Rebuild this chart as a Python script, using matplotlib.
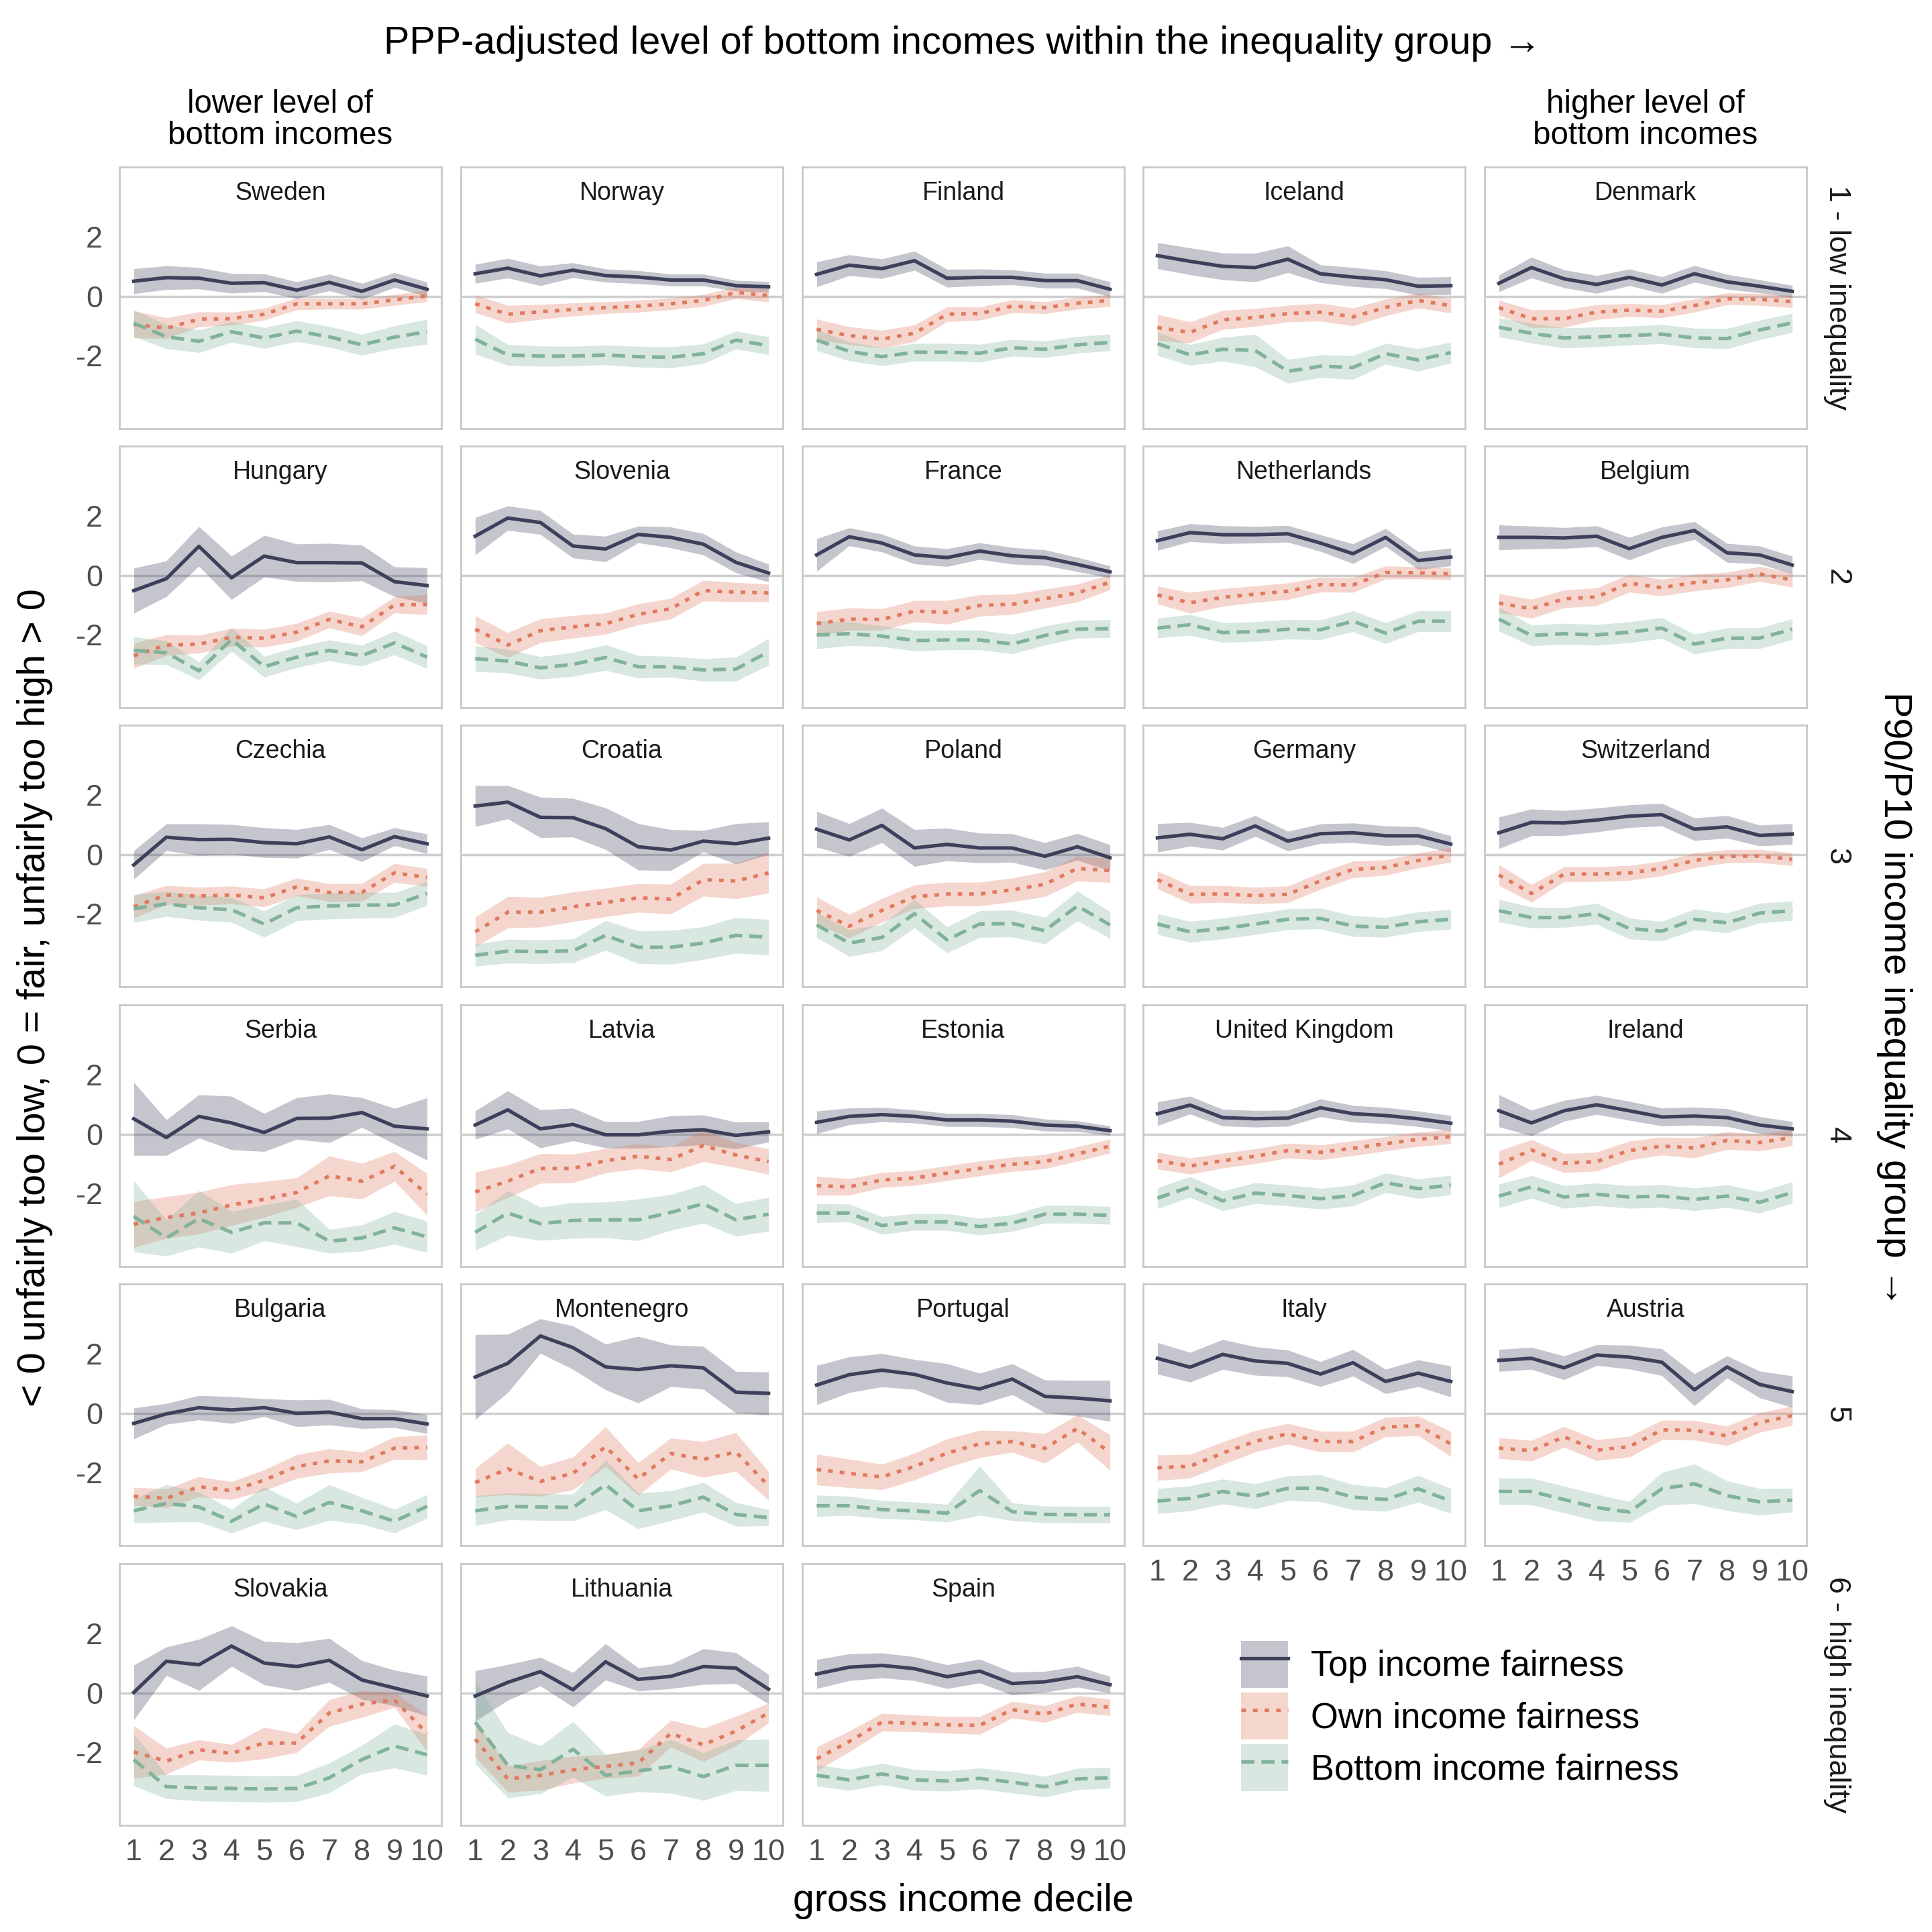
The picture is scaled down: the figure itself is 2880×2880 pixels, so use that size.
import numpy as np
import matplotlib
matplotlib.use("Agg")
import matplotlib.pyplot as plt
from matplotlib.patches import Patch
from matplotlib.lines import Line2D

plt.rcParams['font.family'] = ['Liberation Sans', 'DejaVu Sans']

# ---------------- data ----------------
deciles = list(range(1, 11))
decile_labels = [str(d) for d in deciles]
y_ticks = [-2, 0, 2]
y_tick_labels = ['-2', '0', '2']

countries = [
    'Sweden', 'Norway', 'Finland', 'Iceland', 'Denmark',
    'Hungary', 'Slovenia', 'France', 'Netherlands', 'Belgium',
    'Czechia', 'Croatia', 'Poland', 'Germany', 'Switzerland',
    'Serbia', 'Latvia', 'Estonia', 'United Kingdom', 'Ireland',
    'Bulgaria', 'Montenegro', 'Portugal', 'Italy', 'Austria',
    'Slovakia', 'Lithuania', 'Spain',
]
row_labels = ['1 - low inequality', '2', '3', '4', '5', '6 - high inequality']
series_names = ['Top income fairness', 'Own income fairness', 'Bottom income fairness']

top_mean = [
    [0.51, 0.63, 0.61, 0.44, 0.46, 0.21, 0.47, 0.17, 0.55, 0.24],
    [0.76, 0.95, 0.69, 0.88, 0.70, 0.65, 0.55, 0.55, 0.36, 0.32],
    [0.74, 1.05, 0.93, 1.20, 0.61, 0.64, 0.64, 0.53, 0.53, 0.24],
    [1.37, 1.18, 1.01, 0.97, 1.25, 0.76, 0.65, 0.56, 0.34, 0.36],
    [0.44, 0.97, 0.59, 0.40, 0.64, 0.38, 0.76, 0.49, 0.34, 0.17],
    [-0.51, -0.11, 0.98, -0.08, 0.65, 0.43, 0.43, 0.42, -0.21, -0.34],
    [1.32, 1.93, 1.78, 0.99, 0.89, 1.38, 1.28, 1.05, 0.44, 0.08],
    [0.69, 1.30, 1.09, 0.69, 0.60, 0.82, 0.66, 0.60, 0.37, 0.12],
    [1.17, 1.44, 1.37, 1.37, 1.40, 1.09, 0.73, 1.28, 0.50, 0.62],
    [1.28, 1.28, 1.26, 1.32, 0.90, 1.28, 1.51, 0.76, 0.69, 0.35],
    [-0.35, 0.58, 0.50, 0.51, 0.40, 0.36, 0.59, 0.16, 0.60, 0.36],
    [1.63, 1.76, 1.25, 1.24, 0.87, 0.26, 0.15, 0.45, 0.36, 0.55],
    [0.85, 0.49, 0.98, 0.22, 0.34, 0.22, 0.22, -0.06, 0.26, -0.11],
    [0.56, 0.68, 0.53, 0.96, 0.45, 0.70, 0.73, 0.63, 0.63, 0.35],
    [0.73, 1.08, 1.06, 1.16, 1.29, 1.34, 0.85, 0.93, 0.64, 0.69],
    [0.52, -0.11, 0.60, 0.38, 0.06, 0.53, 0.54, 0.73, 0.27, 0.18],
    [0.31, 0.82, 0.18, 0.33, -0.02, -0.02, 0.10, 0.15, -0.04, 0.08],
    [0.40, 0.60, 0.66, 0.60, 0.48, 0.48, 0.44, 0.31, 0.27, 0.12],
    [0.69, 0.98, 0.56, 0.52, 0.54, 0.89, 0.69, 0.63, 0.52, 0.37],
    [0.79, 0.38, 0.79, 0.99, 0.79, 0.58, 0.61, 0.56, 0.31, 0.18],
    [-0.34, -0.02, 0.19, 0.11, 0.19, 0.00, 0.04, -0.18, -0.18, -0.36],
    [1.22, 1.68, 2.60, 2.21, 1.56, 1.47, 1.60, 1.53, 0.71, 0.67],
    [0.95, 1.30, 1.45, 1.31, 1.02, 0.82, 1.15, 0.57, 0.51, 0.42],
    [1.85, 1.55, 1.98, 1.76, 1.68, 1.32, 1.70, 1.07, 1.35, 1.07],
    [1.78, 1.85, 1.53, 1.96, 1.89, 1.72, 0.79, 1.56, 0.97, 0.73],
    [0.02, 1.07, 0.95, 1.58, 1.01, 0.89, 1.10, 0.44, 0.17, -0.10],
    [-0.10, 0.36, 0.72, 0.11, 1.05, 0.46, 0.56, 0.89, 0.84, 0.13],
    [0.64, 0.87, 0.93, 0.82, 0.55, 0.74, 0.32, 0.38, 0.55, 0.28],
]
top_halfwidth = [
    [0.42, 0.40, 0.36, 0.33, 0.30, 0.28, 0.28, 0.27, 0.25, 0.24],
    [0.32, 0.33, 0.33, 0.25, 0.22, 0.22, 0.20, 0.20, 0.18, 0.18],
    [0.42, 0.35, 0.33, 0.32, 0.30, 0.28, 0.25, 0.25, 0.25, 0.25],
    [0.44, 0.45, 0.45, 0.48, 0.45, 0.30, 0.32, 0.30, 0.30, 0.30],
    [0.28, 0.35, 0.30, 0.30, 0.28, 0.28, 0.28, 0.25, 0.22, 0.20],
    [0.76, 0.60, 0.67, 0.73, 0.70, 0.63, 0.65, 0.60, 0.50, 0.60],
    [0.63, 0.41, 0.40, 0.40, 0.43, 0.28, 0.35, 0.36, 0.35, 0.30],
    [0.55, 0.30, 0.30, 0.30, 0.30, 0.28, 0.28, 0.26, 0.24, 0.20],
    [0.33, 0.30, 0.30, 0.28, 0.28, 0.28, 0.33, 0.30, 0.30, 0.30],
    [0.42, 0.38, 0.35, 0.35, 0.38, 0.35, 0.30, 0.32, 0.30, 0.30],
    [0.48, 0.45, 0.53, 0.50, 0.50, 0.48, 0.42, 0.40, 0.30, 0.33],
    [0.69, 0.56, 0.68, 0.65, 0.70, 0.78, 0.69, 0.36, 0.68, 0.55],
    [0.60, 0.55, 0.58, 0.62, 0.55, 0.50, 0.48, 0.46, 0.45, 0.44],
    [0.48, 0.40, 0.38, 0.35, 0.33, 0.33, 0.33, 0.33, 0.30, 0.28],
    [0.53, 0.45, 0.42, 0.40, 0.38, 0.38, 0.38, 0.38, 0.35, 0.35],
    [1.23, 0.60, 0.73, 0.90, 0.64, 0.70, 0.82, 0.50, 0.60, 1.05],
    [0.48, 0.64, 0.64, 0.55, 0.44, 0.45, 0.52, 0.50, 0.45, 0.34],
    [0.38, 0.28, 0.24, 0.22, 0.22, 0.22, 0.22, 0.20, 0.18, 0.16],
    [0.40, 0.30, 0.28, 0.28, 0.27, 0.30, 0.28, 0.27, 0.26, 0.26],
    [0.54, 0.43, 0.35, 0.32, 0.32, 0.30, 0.30, 0.30, 0.28, 0.25],
    [0.52, 0.35, 0.41, 0.45, 0.30, 0.45, 0.43, 0.33, 0.30, 0.32],
    [1.43, 0.98, 0.58, 0.73, 0.77, 1.12, 0.70, 0.72, 0.70, 0.72],
    [0.66, 0.60, 0.56, 0.50, 0.65, 0.53, 0.52, 0.55, 0.60, 0.69],
    [0.53, 0.50, 0.50, 0.48, 0.45, 0.42, 0.45, 0.41, 0.45, 0.52],
    [0.37, 0.37, 0.40, 0.35, 0.40, 0.45, 0.54, 0.37, 0.45, 0.53],
    [0.92, 0.48, 0.86, 0.68, 0.73, 0.80, 0.74, 0.65, 0.60, 0.67],
    [0.85, 0.60, 0.48, 0.58, 0.61, 0.39, 0.41, 0.60, 0.52, 0.50],
    [0.49, 0.45, 0.42, 0.40, 0.40, 0.40, 0.38, 0.35, 0.35, 0.28],
]
own_mean = [
    [-0.94, -1.07, -0.77, -0.75, -0.60, -0.25, -0.25, -0.25, -0.12, 0.02],
    [-0.25, -0.60, -0.52, -0.44, -0.38, -0.33, -0.25, -0.14, 0.13, 0.03],
    [-1.11, -1.32, -1.44, -1.24, -0.60, -0.58, -0.33, -0.38, -0.23, -0.14],
    [-1.05, -1.21, -0.79, -0.71, -0.58, -0.53, -0.69, -0.37, -0.14, -0.31],
    [-0.38, -0.75, -0.75, -0.53, -0.46, -0.50, -0.31, -0.08, -0.10, -0.18],
    [-2.70, -2.34, -2.31, -2.08, -2.11, -1.91, -1.48, -1.73, -0.99, -0.98],
    [-1.81, -2.34, -1.86, -1.73, -1.62, -1.31, -1.12, -0.51, -0.56, -0.59],
    [-1.62, -1.47, -1.48, -1.20, -1.24, -1.01, -0.97, -0.78, -0.59, -0.23],
    [-0.66, -0.92, -0.74, -0.63, -0.53, -0.31, -0.32, 0.10, 0.09, 0.05],
    [-0.93, -1.12, -0.79, -0.72, -0.26, -0.41, -0.24, -0.15, 0.05, -0.15],
    [-1.76, -1.36, -1.40, -1.36, -1.46, -1.09, -1.28, -1.27, -0.62, -0.77],
    [-2.60, -1.94, -1.94, -1.76, -1.61, -1.46, -1.50, -0.85, -0.89, -0.62],
    [-1.88, -2.41, -1.88, -1.42, -1.33, -1.33, -1.19, -1.00, -0.47, -0.54],
    [-0.85, -1.34, -1.33, -1.38, -1.34, -0.89, -0.50, -0.44, -0.20, -0.01],
    [-0.69, -1.31, -0.66, -0.66, -0.62, -0.47, -0.20, -0.06, -0.05, -0.16],
    [-3.03, -2.80, -2.65, -2.38, -2.19, -1.96, -1.40, -1.58, -1.08, -2.02],
    [-1.94, -1.58, -1.15, -1.15, -0.89, -0.74, -0.85, -0.38, -0.70, -0.92],
    [-1.73, -1.77, -1.54, -1.47, -1.31, -1.15, -1.01, -0.92, -0.66, -0.40],
    [-0.89, -1.07, -0.89, -0.74, -0.55, -0.61, -0.47, -0.32, -0.17, -0.08],
    [-1.01, -0.53, -0.97, -0.92, -0.55, -0.40, -0.46, -0.21, -0.28, -0.11],
    [-2.79, -2.86, -2.47, -2.60, -2.25, -1.79, -1.60, -1.63, -1.17, -1.15],
    [-2.33, -1.87, -2.29, -2.02, -1.12, -2.21, -1.35, -1.55, -1.30, -2.44],
    [-1.89, -2.02, -2.14, -1.79, -1.34, -1.03, -0.95, -1.18, -0.51, -1.32],
    [-1.83, -1.78, -1.34, -0.94, -0.69, -0.95, -0.95, -0.46, -0.42, -1.03],
    [-1.17, -1.26, -0.79, -1.24, -1.12, -0.56, -0.57, -0.76, -0.31, -0.08],
    [-1.98, -2.29, -1.91, -2.03, -1.68, -1.68, -0.67, -0.37, -0.23, -1.36],
    [-1.55, -2.89, -2.77, -2.58, -2.47, -2.35, -1.36, -1.74, -1.28, -0.67],
    [-2.21, -1.63, -0.98, -1.02, -1.07, -1.09, -0.56, -0.71, -0.37, -0.48],
]
own_halfwidth = [
    [0.45, 0.35, 0.25, 0.22, 0.20, 0.20, 0.18, 0.18, 0.18, 0.20],
    [0.30, 0.30, 0.25, 0.22, 0.20, 0.20, 0.20, 0.20, 0.20, 0.22],
    [0.35, 0.30, 0.30, 0.28, 0.25, 0.22, 0.22, 0.20, 0.20, 0.20],
    [0.44, 0.35, 0.32, 0.30, 0.28, 0.30, 0.30, 0.28, 0.25, 0.25],
    [0.25, 0.30, 0.30, 0.25, 0.22, 0.22, 0.22, 0.20, 0.20, 0.20],
    [0.42, 0.35, 0.30, 0.30, 0.30, 0.30, 0.28, 0.30, 0.27, 0.34],
    [0.45, 0.42, 0.40, 0.38, 0.36, 0.35, 0.35, 0.35, 0.32, 0.30],
    [0.40, 0.38, 0.36, 0.36, 0.40, 0.36, 0.34, 0.32, 0.30, 0.25],
    [0.30, 0.35, 0.30, 0.28, 0.28, 0.25, 0.25, 0.22, 0.20, 0.20],
    [0.32, 0.32, 0.30, 0.30, 0.30, 0.28, 0.28, 0.26, 0.25, 0.25],
    [0.38, 0.32, 0.30, 0.30, 0.30, 0.30, 0.30, 0.30, 0.32, 0.30],
    [0.50, 0.53, 0.50, 0.50, 0.48, 0.48, 0.50, 0.55, 0.60, 0.68],
    [0.45, 0.40, 0.40, 0.40, 0.40, 0.40, 0.40, 0.42, 0.42, 0.40],
    [0.30, 0.30, 0.28, 0.28, 0.28, 0.28, 0.28, 0.26, 0.25, 0.25],
    [0.35, 0.30, 0.25, 0.25, 0.25, 0.25, 0.25, 0.22, 0.22, 0.22],
    [0.77, 0.70, 0.70, 0.69, 0.60, 0.50, 0.67, 0.60, 0.50, 0.70],
    [0.67, 0.55, 0.50, 0.48, 0.41, 0.42, 0.42, 0.54, 0.42, 0.43],
    [0.32, 0.28, 0.25, 0.25, 0.25, 0.25, 0.24, 0.24, 0.24, 0.24],
    [0.28, 0.27, 0.25, 0.25, 0.25, 0.25, 0.25, 0.24, 0.24, 0.24],
    [0.46, 0.35, 0.32, 0.32, 0.32, 0.30, 0.34, 0.30, 0.28, 0.28],
    [0.30, 0.32, 0.34, 0.30, 0.35, 0.40, 0.41, 0.33, 0.38, 0.42],
    [0.48, 0.87, 0.50, 0.55, 0.67, 0.55, 0.52, 0.60, 0.65, 0.48],
    [0.52, 0.48, 0.43, 0.45, 0.48, 0.46, 0.36, 0.50, 0.46, 0.60],
    [0.43, 0.40, 0.38, 0.36, 0.35, 0.35, 0.35, 0.33, 0.33, 0.42],
    [0.35, 0.35, 0.35, 0.35, 0.35, 0.33, 0.33, 0.33, 0.33, 0.33],
    [0.88, 0.44, 0.34, 0.30, 0.53, 0.32, 0.45, 0.45, 0.25, 0.60],
    [0.60, 0.44, 0.50, 0.45, 0.40, 0.45, 0.45, 0.56, 0.50, 0.33],
    [0.40, 0.35, 0.30, 0.28, 0.28, 0.30, 0.28, 0.28, 0.28, 0.28],
]
bottom_mean = [
    [-0.90, -1.36, -1.51, -1.19, -1.40, -1.17, -1.36, -1.63, -1.37, -1.19],
    [-1.44, -1.97, -2.01, -2.01, -1.97, -2.03, -2.05, -1.93, -1.47, -1.66],
    [-1.47, -1.85, -2.03, -1.88, -1.88, -1.91, -1.73, -1.78, -1.63, -1.55],
    [-1.59, -1.97, -1.78, -1.82, -2.52, -2.35, -2.39, -1.93, -2.14, -1.89],
    [-1.04, -1.24, -1.40, -1.36, -1.32, -1.27, -1.40, -1.42, -1.13, -0.89],
    [-2.52, -2.60, -3.21, -2.15, -3.07, -2.75, -2.52, -2.70, -2.27, -2.75],
    [-2.80, -2.88, -3.11, -2.99, -2.76, -3.07, -3.07, -3.18, -3.15, -2.57],
    [-2.00, -1.96, -2.04, -2.19, -2.17, -2.17, -2.31, -2.02, -1.81, -1.79],
    [-1.77, -1.66, -1.92, -1.89, -1.81, -1.83, -1.54, -1.94, -1.54, -1.54],
    [-1.47, -2.02, -1.96, -2.00, -1.91, -1.77, -2.31, -2.11, -2.11, -1.81],
    [-1.82, -1.66, -1.79, -1.86, -2.34, -1.79, -1.73, -1.70, -1.70, -1.31],
    [-3.39, -3.25, -3.27, -3.24, -2.72, -3.12, -3.12, -2.98, -2.72, -2.78],
    [-2.37, -2.98, -2.79, -1.99, -2.87, -2.34, -2.32, -2.56, -1.73, -2.37],
    [-2.34, -2.60, -2.49, -2.34, -2.18, -2.15, -2.41, -2.45, -2.26, -2.18],
    [-1.89, -2.12, -2.12, -1.99, -2.49, -2.58, -2.18, -2.30, -1.97, -1.89],
    [-2.76, -3.49, -2.84, -3.30, -2.98, -2.98, -3.60, -3.49, -3.15, -3.45],
    [-3.30, -2.65, -3.01, -2.90, -2.88, -2.88, -2.63, -2.34, -2.88, -2.69],
    [-2.65, -2.65, -3.07, -2.95, -2.95, -3.11, -2.99, -2.69, -2.69, -2.73],
    [-2.15, -1.77, -2.24, -1.98, -2.06, -2.17, -2.06, -1.63, -1.83, -1.71],
    [-2.08, -1.77, -2.11, -2.02, -2.11, -2.08, -2.19, -2.08, -2.29, -1.96],
    [-3.28, -3.03, -3.15, -3.63, -3.05, -3.47, -3.00, -3.28, -3.63, -3.13],
    [-3.28, -3.13, -3.15, -3.17, -2.40, -3.28, -3.11, -2.82, -3.40, -3.51],
    [-3.11, -3.11, -3.24, -3.28, -3.36, -2.60, -3.31, -3.40, -3.41, -3.41],
    [-2.95, -2.86, -2.63, -2.79, -2.52, -2.52, -2.82, -2.90, -2.54, -2.95],
    [-2.63, -2.63, -2.90, -3.17, -3.32, -2.54, -2.37, -2.77, -2.98, -2.92],
    [-2.24, -3.15, -3.19, -3.21, -3.23, -3.21, -2.85, -2.24, -1.78, -2.08],
    [-0.98, -2.43, -2.58, -1.89, -2.77, -2.62, -2.47, -2.81, -2.43, -2.43],
    [-2.77, -2.92, -2.72, -2.92, -2.96, -2.87, -3.00, -3.15, -2.89, -2.85],
]
bottom_halfwidth = [
    [0.45, 0.40, 0.38, 0.35, 0.35, 0.35, 0.35, 0.35, 0.38, 0.42],
    [0.50, 0.35, 0.34, 0.33, 0.33, 0.35, 0.35, 0.33, 0.30, 0.30],
    [0.35, 0.32, 0.30, 0.30, 0.30, 0.30, 0.28, 0.28, 0.28, 0.28],
    [0.40, 0.35, 0.40, 0.55, 0.40, 0.38, 0.40, 0.35, 0.38, 0.35],
    [0.32, 0.33, 0.34, 0.33, 0.32, 0.32, 0.33, 0.34, 0.33, 0.32],
    [0.46, 0.40, 0.30, 0.40, 0.35, 0.35, 0.35, 0.35, 0.40, 0.38],
    [0.43, 0.40, 0.38, 0.40, 0.43, 0.38, 0.35, 0.38, 0.40, 0.45],
    [0.47, 0.40, 0.35, 0.35, 0.33, 0.33, 0.33, 0.32, 0.30, 0.30],
    [0.33, 0.35, 0.33, 0.33, 0.33, 0.33, 0.35, 0.35, 0.35, 0.35],
    [0.40, 0.35, 0.35, 0.35, 0.35, 0.35, 0.33, 0.35, 0.35, 0.35],
    [0.47, 0.42, 0.42, 0.42, 0.44, 0.44, 0.44, 0.44, 0.42, 0.40],
    [0.37, 0.40, 0.40, 0.40, 0.50, 0.55, 0.57, 0.55, 0.60, 0.60],
    [0.42, 0.45, 0.44, 0.48, 0.44, 0.45, 0.45, 0.45, 0.50, 0.45],
    [0.35, 0.35, 0.35, 0.35, 0.35, 0.35, 0.35, 0.33, 0.33, 0.33],
    [0.38, 0.35, 0.33, 0.35, 0.35, 0.33, 0.35, 0.33, 0.33, 0.33],
    [1.20, 0.60, 0.95, 0.70, 0.60, 0.80, 0.40, 0.44, 0.55, 0.53],
    [0.60, 0.75, 0.56, 0.60, 0.60, 0.70, 0.60, 0.65, 0.55, 0.57],
    [0.32, 0.30, 0.30, 0.28, 0.28, 0.28, 0.28, 0.30, 0.30, 0.30],
    [0.35, 0.35, 0.33, 0.35, 0.35, 0.35, 0.35, 0.33, 0.33, 0.33],
    [0.40, 0.38, 0.38, 0.38, 0.38, 0.38, 0.38, 0.38, 0.36, 0.36],
    [0.40, 0.63, 0.50, 0.40, 0.58, 0.45, 0.60, 0.45, 0.40, 0.40],
    [0.50, 0.45, 0.45, 0.45, 0.84, 0.60, 0.50, 0.50, 0.40, 0.27],
    [0.36, 0.32, 0.30, 0.30, 0.30, 0.83, 0.30, 0.28, 0.28, 0.28],
    [0.42, 0.42, 0.42, 0.42, 0.42, 0.45, 0.42, 0.40, 0.45, 0.42],
    [0.45, 0.45, 0.45, 0.45, 0.35, 0.55, 0.67, 0.50, 0.45, 0.40],
    [0.88, 0.40, 0.44, 0.44, 0.44, 0.44, 0.50, 0.48, 0.74, 0.68],
    [1.40, 1.10, 0.80, 0.94, 0.70, 0.70, 0.90, 0.80, 0.85, 0.88],
    [0.36, 0.35, 0.36, 0.35, 0.34, 0.35, 0.36, 0.35, 0.36, 0.35],
]

# ---------------- styling ----------------
series = [
    (top_mean, top_halfwidth, '#3d405b', '-'),
    (own_mean, own_halfwidth, '#e07a5f', (0, (1.3, 2.0))),
    (bottom_mean, bottom_halfwidth, '#81b29a', (0, (3.7, 2.0))),
]
LW = 2.1
TICK_COLOR = '#4d4d4d'
TEXT_COLOR = '#1a1a1a'

W = H = 2880
fig = plt.figure(figsize=(16, 16), dpi=180)
fig.patch.set_facecolor('white')

col_left = [178, 687, 1196, 1704, 2213]
row_top = [249, 665, 1081, 1498, 1914, 2331]
pw, ph = 480, 390

x = np.array(deciles)
for i, country in enumerate(countries):
    r, k = divmod(i, 5)
    ax = fig.add_axes([col_left[k] / W, 1 - (row_top[r] + ph) / H, pw / W, ph / H])
    ax.set_xlim(0.56, 10.44)
    ax.set_ylim(-4.45, 4.35)
    ax.axhline(0, color='#cfcfcf', lw=1.4, zorder=1)
    for mean, hw, color, ls in series:
        m = np.array(mean[i])
        h = np.array(hw[i])
        ax.fill_between(x, m - h, m + h, color=color, alpha=0.3, lw=0, zorder=2)
    for mean, hw, color, ls in series:
        ax.plot(x, mean[i], color=color, lw=LW, ls=ls, zorder=3,
                solid_joinstyle='round', dash_capstyle='butt')
    for sp in ax.spines.values():
        sp.set_color('#c8c8c8')
        sp.set_linewidth(1.1)
    ax.text(0.5, 0.90, country, transform=ax.transAxes, ha='center', va='center',
            fontsize=15, color=TEXT_COLOR)
    ax.tick_params(length=0, labelsize=18, labelcolor=TICK_COLOR)
    ax.set_yticks(y_ticks)
    if k == 0:
        ax.set_yticklabels(y_tick_labels)
        ax.tick_params(axis='y', pad=10)
    else:
        ax.set_yticklabels([])
    ax.set_xticks(deciles)
    show_x = (r == 5) or (r == 4 and k >= 3)
    if show_x:
        ax.set_xticklabels(decile_labels)
        ax.tick_params(axis='x', pad=8)
    else:
        ax.set_xticklabels([])

# right strip labels
for r, lab in enumerate(row_labels):
    yc = 1 - (row_top[r] + ph / 2) / H
    fig.text(0.9507, yc, lab, rotation=270, ha='center', va='center',
             fontsize=18, color=TEXT_COLOR)

# titles
fig.text(0.4984, 0.9776, 'PPP-adjusted level of bottom incomes within the inequality group \u2192',
         ha='center', va='center', fontsize=23, color='black')
fig.text(0.1451, 0.9378, 'lower level of\nbottom incomes', ha='center', va='center',
         fontsize=19, color='black', linespacing=1.05)
fig.text(0.8517, 0.9378, 'higher level of\nbottom incomes', ha='center', va='center',
         fontsize=19, color='black', linespacing=1.05)
fig.text(0.4986, 0.016, 'gross income decile', ha='center', va='center',
         fontsize=23, color='black')
fig.text(0.018, 0.4835, '< 0 unfairly too low, 0 = fair, unfairly too high > 0',
         rotation=90, ha='center', va='center', fontsize=23, color='black')
fig.text(0.9807, 0.4826, 'P90/P10 income inequality group \u2192',
         rotation=270, ha='center', va='center', fontsize=23, color='black')

# legend
handles = []
for mean, hw, color, ls in series:
    handles.append((Patch(facecolor=color, alpha=0.3, edgecolor='none'),
                    Line2D([], [], color=color, lw=LW, ls=ls)))
fig.legend(handles, series_names, loc='center left', bbox_to_anchor=(0.6424, 0.1118),
           frameon=False, fontsize=21, handlelength=1.33, handleheight=1.67,
           labelspacing=0.14, handletextpad=0.65, borderpad=0, borderaxespad=0)

fig.savefig('out.png', dpi=180, facecolor='white')
